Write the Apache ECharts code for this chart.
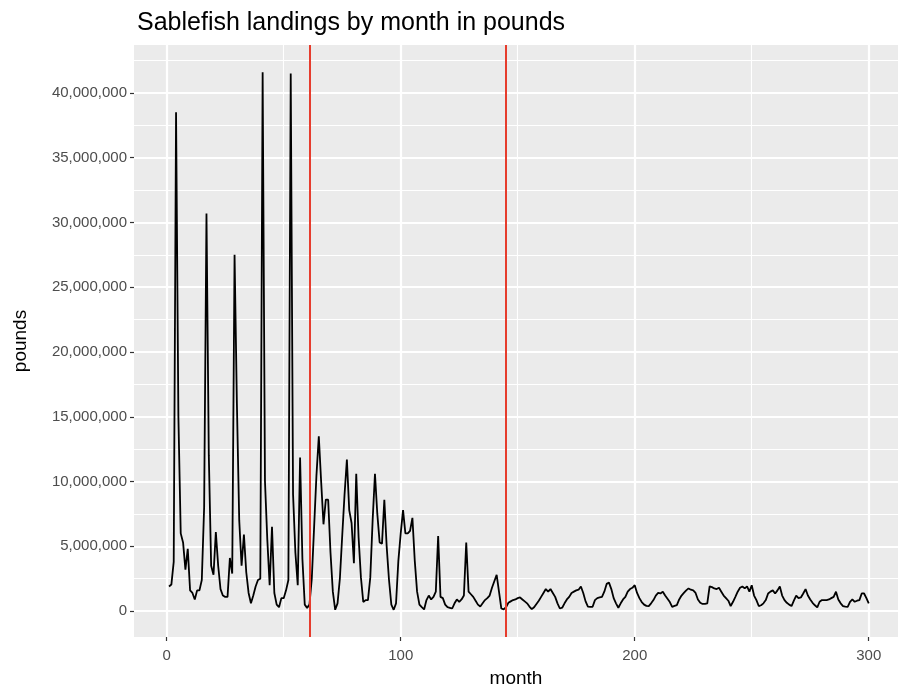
<!DOCTYPE html>
<html>
<head>
<meta charset="utf-8">
<script src="https://cdn.jsdelivr.net/npm/echarts@6/dist/echarts.min.js"></script>
<style>
  html, body { margin: 0; padding: 0; background: #fff; }
  #chart { width: 898px; height: 688px; }
</style>
</head>
<body>
<div id="chart"></div>
<script>
// monthly sablefish landings, millions of pounds
var earlyMonths = [ // months 1-60
  1.9, 2.05, 3.8, 38.5, 15, 6.0, 5.3, 3.2, 4.8, 1.6,
  1.4, 0.9, 1.6, 1.6, 2.4, 8, 30.7, 12, 3.5, 2.8,
  6.1, 3.5, 1.7, 1.2, 1.1, 1.1, 4.1, 2.9, 27.5, 16,
  7, 3.5, 5.9, 3.0, 1.4, 0.6, 1.2, 1.9, 2.4, 2.5,
  41.6, 10, 5.5, 2.0, 6.5, 1.4, 0.5, 0.3, 1.0, 1.0,
  1.6, 2.4, 41.5, 9, 4.5, 2.0, 11.85, 4.0, 0.5, 0.25
]
var middleMonths = [ // months 61-144
  0.5, 2.5, 6.5, 10.5, 13.5, 10, 6.7, 8.6, 8.6, 4.5,
  1.5, 0.1, 0.6, 2.5, 5.8, 9.0, 11.7, 7.8, 6.8, 3.7,
  10.6, 5.7, 2.6, 0.7, 0.85, 0.85, 2.6, 7.0, 10.6, 7.5,
  5.3, 5.2, 8.6, 5.0, 2.4, 0.5, 0.1, 0.6, 3.9, 6.0,
  7.8, 6.0, 6.0, 6.2, 7.2, 3.9, 1.5, 0.5, 0.3, 0.13,
  0.85, 1.2, 0.9, 1.1, 1.5, 5.8, 1.1, 1.0, 0.5, 0.3,
  0.25, 0.2, 0.6, 0.9, 0.72, 0.9, 1.2, 5.3, 1.5, 1.3,
  1.1, 0.8, 0.5, 0.35, 0.6, 0.85, 1.0, 1.2, 1.8, 2.3,
  2.8, 1.5, 0.2, 0.13
]
var lateMonths = [ // months 145-300
  0.3, 0.64, 0.75, 0.85, 0.9, 1.0,
  1.05, 0.9, 0.75, 0.6, 0.35, 0.15, 0.3, 0.55, 0.8, 1.1,
  1.4, 1.7, 1.5, 1.7, 1.4, 1.1, 0.6, 0.2, 0.26, 0.6,
  0.9, 1.1, 1.4, 1.5, 1.6, 1.65, 1.9, 1.4, 0.75, 0.35,
  0.33, 0.33, 0.85, 1.0, 1.05, 1.1, 1.5, 2.1, 2.2, 1.7,
  1.0, 0.6, 0.26, 0.6, 0.9, 1.1, 1.5, 1.7, 1.8, 2.0,
  1.4, 1.0, 0.7, 0.5, 0.4, 0.39, 0.6, 0.85, 1.2, 1.4,
  1.36, 1.5, 1.2, 0.95, 0.7, 0.33, 0.4, 0.46, 0.9, 1.2,
  1.4, 1.6, 1.75, 1.65, 1.6, 1.4, 0.9, 0.65, 0.55, 0.55,
  0.6, 1.9, 1.85, 1.75, 1.7, 1.8, 1.5, 1.2, 1.0, 0.8,
  0.39, 0.72, 1.1, 1.5, 1.8, 1.9, 1.75, 1.9, 1.5, 2.0,
  1.2, 0.85, 0.39, 0.45, 0.6, 0.85, 1.36, 1.5, 1.6, 1.36,
  1.6, 1.9, 1.2, 0.85, 0.64, 0.5, 0.39, 0.8, 1.2, 1.0,
  1.05, 1.36, 1.7, 1.2, 0.9, 0.64, 0.45, 0.28, 0.72, 0.85,
  0.85, 0.85, 0.9, 1.0, 1.1, 1.5, 0.9, 0.6, 0.39, 0.35,
  0.33, 0.72, 0.9, 0.72, 0.8, 0.85, 1.36, 1.36, 1.0, 0.6
]
var breakMonths = [61, 145]
var xTicks = [0, 100, 200, 300]
var xMinor = [50, 150, 250]
var yTicks = [0, 5, 10, 15, 20, 25, 30, 35, 40]
var yMinor = [2.5, 7.5, 12.5, 17.5, 22.5, 27.5, 32.5, 37.5, 42.5]

var landings = earlyMonths.concat(middleMonths, lateMonths)
var points = []
for (var i = 0; i < landings.length; i++) {
  points.push([i + 1, landings[i]])
}

var font = 'Liberation Sans, Arial, Helvetica, sans-serif'
var xMin = -13.97, xMax = 312.5
var yMin = -2.0, yMax = 43.7

function poundsLabel(v) {
  return Math.round(v * 1000000).toLocaleString('en-US')
}

var chart = echarts.init(document.getElementById('chart'))
var option = {
  animation: false,
  textStyle: { fontFamily: font },
  title: {
    text: 'Sablefish landings by month in pounds',
    left: 132,
    top: 6,
    textStyle: { fontSize: 25, fontWeight: 'normal', color: '#000', fontFamily: font }
  },
  grid: {
    left: 134,
    right: 0,
    top: 45,
    bottom: 51,
    outerBoundsMode: 'none',
    containLabel: false,
    show: true,
    backgroundColor: '#ebebeb',
    borderWidth: 0
  },
  xAxis: [{
    type: 'value',
    min: xMin,
    max: xMax,
    axisLine: { show: false, onZero: false },
    axisTick: { show: true, length: 4, customValues: xTicks, lineStyle: { color: '#333', width: 1.2 } },
    axisLabel: { customValues: xTicks, color: '#4d4d4d', fontSize: 15, margin: 11, fontFamily: font },
    splitLine: { show: true, lineStyle: { color: '#fff', width: 2.2 } },
    name: 'month',
    nameLocation: 'middle',
    nameGap: 32,
    nameTextStyle: { color: '#000', fontSize: 19, fontFamily: font }
  }, {
    type: 'value',
    min: xMin,
    max: xMax,
    position: 'bottom',
    axisLine: { show: false, onZero: false },
    axisTick: { show: false, customValues: xMinor },
    axisLabel: { show: false, customValues: xMinor },
    splitLine: { show: true, lineStyle: { color: '#fff', width: 1.1 } }
  }],
  yAxis: [{
    type: 'value',
    min: yMin,
    max: yMax,
    axisLine: { show: false, onZero: false },
    axisTick: { show: true, length: 4, customValues: yTicks, lineStyle: { color: '#333', width: 1.2 } },
    axisLabel: { customValues: yTicks, color: '#4d4d4d', fontSize: 15, margin: 7, fontFamily: font, formatter: poundsLabel },
    splitLine: { show: true, lineStyle: { color: '#fff', width: 2.2 } },
    name: 'pounds',
    nameLocation: 'middle',
    nameGap: 104,
    nameRotate: 90,
    nameTextStyle: { color: '#000', fontSize: 19, fontFamily: font }
  }, {
    type: 'value',
    min: yMin,
    max: yMax,
    position: 'left',
    axisLine: { show: false, onZero: false },
    axisTick: { show: false, customValues: yMinor },
    axisLabel: { show: false, customValues: yMinor },
    splitLine: { show: true, lineStyle: { color: '#fff', width: 1.1 } }
  }],
  series: [{
    type: 'line',
    data: points,
    xAxisIndex: 0,
    yAxisIndex: 0,
    symbol: 'none',
    showSymbol: false,
    lineStyle: { color: '#000', width: 1.8 },
    markLine: {
      silent: true,
      symbol: ['none', 'none'],
      label: { show: false },
      lineStyle: { color: '#e63c2d', type: 'solid', width: 2 },
      data: breakMonths.map(function (m) { return { xAxis: m } })
    }
  }]
}
chart.setOption(option)
</script>
</body>
</html>
